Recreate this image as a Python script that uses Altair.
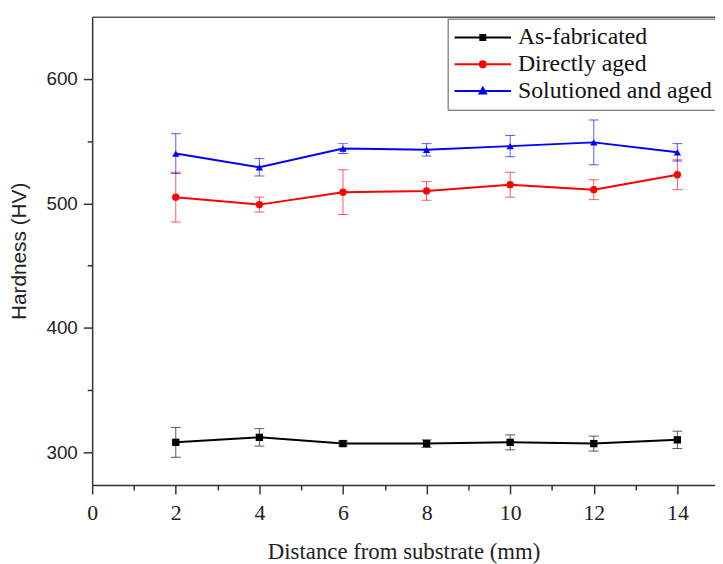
import altair as alt
import pandas as pd

# ---- data ----
distance = [2, 4, 6, 8, 10, 12, 14]
series_names = ["As-fabricated", "Directly aged", "Solutioned and aged"]
as_fabricated = [308, 312, 307, 307, 308, 307, 310]
as_fabricated_err = [12, 7, 2, 3, 6, 6, 7]
directly_aged = [505, 499, 509, 510, 515, 511, 523]
directly_aged_err = [20, 6, 18, 7.5, 10, 8, 12]
solutioned_aged = [540, 529, 544, 543, 546, 549, 541]
solutioned_aged_err = [16, 7, 4, 5, 8.5, 18, 7]
x_major_ticks = [0, 2, 4, 6, 8, 10, 12, 14]
x_minor_ticks = [1, 3, 5, 7, 9, 11, 13]
y_major_ticks = [300, 400, 500, 600]
y_minor_ticks = [350, 450, 550]

colors = ["#000000", "#ff0000", "#0000ff"]
point_shapes = ["square", "circle", "triangle-up"]
# legend symbols: a line with the (stroke-filled) marker in the middle
legend_shapes = [
    "M-2.4,0H9M2.8,-0.5H3.8V0.5H2.8ZM3.2,-0.1H3.4V0.1H3.2Z",
    "M-2.4,0H9M3.9,0A0.6,0.6,0,1,1,2.7,0A0.6,0.6,0,1,1,3.9,0ZM3.5,0A0.2,0.2,0,1,1,3.1,0A0.2,0.2,0,1,1,3.5,0Z",
    "M-2.4,0H9M3.3,-0.65L3.95,0.5L2.65,0.5ZM3.3,-0.13L3.5,0.24L3.1,0.24Z",
]

rows = []
for name, vals, errs in zip(series_names,
                            [as_fabricated, directly_aged, solutioned_aged],
                            [as_fabricated_err, directly_aged_err, solutioned_aged_err]):
    for d, v, e in zip(distance, vals, errs):
        rows.append({"series": name, "dist": d, "hv": v, "lo": v - e, "hi": v + e})
df = pd.DataFrame(rows)

W, H = 629, 473
serif = "Liberation Serif"
sans = "Liberation Sans"
xscale = alt.Scale(domain=[0, 14.9], nice=False, zero=False)
yscale = alt.Scale(domain=[273.7, 650], nice=False, zero=False)
cscale = alt.Scale(domain=series_names, range=colors)
ink = "#222222"

x_major = alt.Axis(orient="bottom", values=x_major_ticks, title="Distance from substrate (mm)",
                   titleFont=serif, titleFontSize=23, titleFontWeight="normal", titleColor=ink,
                   titlePadding=17, labelFont=serif, labelFontSize=22, labelColor=ink,
                   labelPadding=9, tickSize=9, tickWidth=1.5, tickColor="#333333",
                   domainColor="#333333", domainWidth=1.5, grid=False, labelFlush=False, format="d")
x_minor = alt.Axis(orient="bottom", values=x_minor_ticks, title=None, labels=False, domain=False,
                   tickSize=5, tickWidth=1.5, tickColor="#333333", grid=False)
x_top = alt.Axis(orient="top", title=None, labels=False, ticks=False, grid=False,
                 domainColor="#555555", domainWidth=1.5)
y_major = alt.Axis(orient="left", values=y_major_ticks, title="Hardness (HV)",
                   titleFont=sans, titleFontSize=21, titleFontWeight="normal", titleColor=ink,
                   titlePadding=17, labelFont=sans, labelFontSize=19, labelColor=ink,
                   labelPadding=6, tickSize=9, tickWidth=1.5, tickColor="#333333",
                   domainColor="#333333", domainWidth=1.5, grid=False)
y_minor = alt.Axis(orient="left", values=y_minor_ticks, title=None, labels=False, domain=False,
                   tickSize=5, tickWidth=1.5, tickColor="#333333", grid=False)

base = alt.Chart(df)
color_enc = alt.Color("series:N", scale=cscale, legend=None)

lines = base.mark_line(strokeWidth=2).encode(
    x=alt.X("dist:Q", scale=xscale, axis=x_major),
    y=alt.Y("hv:Q", scale=yscale, axis=y_major),
    color=color_enc,
    order="dist:Q",
)
rules = base.mark_rule(strokeWidth=1, opacity=0.65).encode(
    x=alt.X("dist:Q", scale=xscale, axis=x_minor),
    y=alt.Y("lo:Q", scale=yscale, axis=y_minor),
    y2="hi:Q",
    color=color_enc,
)
caps_lo = base.mark_tick(orient="horizontal", size=10, thickness=1, opacity=0.65).encode(
    x=alt.X("dist:Q", scale=xscale, axis=x_top),
    y=alt.Y("lo:Q", scale=yscale, axis=None),
    color=color_enc,
)
caps_hi = base.mark_tick(orient="horizontal", size=10, thickness=1, opacity=0.65).encode(
    x=alt.X("dist:Q", scale=xscale, axis=None),
    y=alt.Y("hi:Q", scale=yscale, axis=None),
    color=color_enc,
)
point_layers = []
for name, shp in zip(series_names, point_shapes):
    point_layers.append(
        base.transform_filter(alt.datum.series == name)
        .mark_point(filled=True, opacity=1, size=55, shape=shp)
        .encode(
            x=alt.X("dist:Q", scale=xscale, axis=None),
            y=alt.Y("hv:Q", scale=yscale, axis=None),
            color=color_enc,
        )
    )

leg = alt.Legend(title=None, orient="none", legendX=359, legendY=2, padding=7,
                 strokeColor="#555555", fillColor="white", labelFont=serif, labelFontSize=24,
                 labelColor="#111111", labelOffset=40, labelLimit=0, rowPadding=3, symbolSize=100,
                 symbolStrokeWidth=2, symbolOpacity=1)
legend_layer = base.transform_filter("false").mark_point(filled=False, opacity=1, size=100, strokeWidth=2).encode(
    color=alt.Color("series:N", scale=cscale, legend=leg),
    shape=alt.Shape("series:N", scale=alt.Scale(domain=series_names, range=legend_shapes), legend=leg),
)

chart = alt.layer(lines, rules, caps_lo, caps_hi, *point_layers, legend_layer).resolve_scale(
    color="independent", shape="independent"
).resolve_axis(
    x="independent", y="independent"
).properties(
    width=W, height=H,
    autosize=alt.AutoSizeParams(type="none"),
    padding={"left": 85, "top": 6, "right": 0, "bottom": 78},
    background="white",
).configure_view(stroke=None)

chart.save("out.html", embed_options={"renderer": "svg", "actions": False})
